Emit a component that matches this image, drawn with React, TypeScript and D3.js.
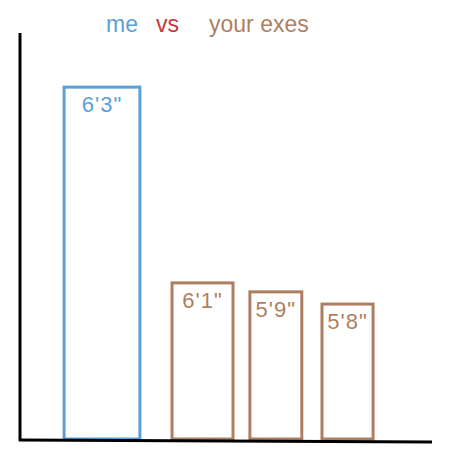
import React from "react";
import * as d3 from "d3";

const categories = ["me", "ex 1", "ex 2", "ex 3"];
const labels = ["6'3\"", "6'1\"", "5'9\"", "5'8\""];
const drawnHeights = [86.7, 38.6, 36.4, 33.4];
const barLeft = [10.7, 36.9, 55.8, 73.3];
const barRight = [29.1, 51.7, 68.4, 85.7];
const groups = ["me", "ex", "ex", "ex"];

const titleParts = ["me", "vs", "your exes"];

const W = 450;
const H = 467;
const BLUE = "#5aa0d8";
const BROWN = "#ad7f60";
const RED = "#c8363a";

export default function App() {
  const x = d3.scaleLinear().domain([0, 100]).range([20, 432]);
  const y = d3.scaleLinear().domain([0, 100]).range([440, 33]);
  const color = (g: string) => (g === "me" ? BLUE : BROWN);

  const font = "'Liberation Sans', Arial, sans-serif";
  const titleX = [106, 156, 209];
  const titleColors = [BLUE, RED, BROWN];

  return (
    <svg
      width={W}
      height={H}
      style={{ position: "absolute", left: 0, top: 0, background: "#fff" }}
      fontFamily={font}
    >
      <rect width={W} height={H} fill="#fff" />
      {titleParts.map((t, i) => (
        <text key={t} x={titleX[i]} y={32} fontSize={23} fill={titleColors[i]}>
          {t}
        </text>
      ))}
      {categories.map((c, i) => {
        const x0 = x(barLeft[i]);
        const x1 = x(barRight[i]);
        const top = y(drawnHeights[i]);
        const bottom = y(0) - 1;
        return (
          <g key={c}>
            <rect
              x={x0}
              y={top}
              width={x1 - x0}
              height={bottom - top}
              fill="none"
              stroke={color(groups[i])}
              strokeWidth={3}
            />
            <text
              x={(x0 + x1) / 2}
              y={top + 25}
              textAnchor="middle"
              fontSize={22}
              letterSpacing={1}
              fill={color(groups[i])}
            >
              {labels[i]}
            </text>
          </g>
        );
      })}
      <line x1={x(0)} y1={y(100)} x2={x(0)} y2={y(0) + 1} stroke="#000" strokeWidth={3} />
      <line x1={x(0) - 1} y1={y(0)} x2={x(100)} y2={y(0) + 2} stroke="#000" strokeWidth={3} />
    </svg>
  );
}
